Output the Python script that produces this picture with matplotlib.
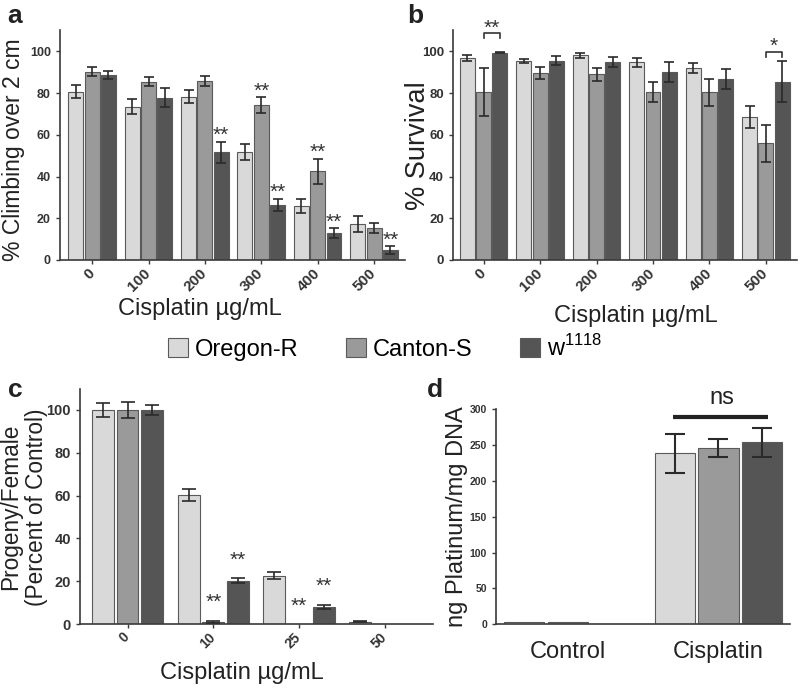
import numpy as np
import matplotlib.pyplot as plt
from matplotlib.patches import Patch

plt.rcParams['font.family'] = ['Liberation Sans', 'DejaVu Sans']
plt.rcParams['mathtext.fontset'] = 'custom'
plt.rcParams['mathtext.rm'] = 'Liberation Sans'

strains = ['Oregon-R', 'Canton-S', 'w$^{1118}$']
colors = ['#d9d9d9', '#9a9a9a', '#555555']

# a: climbing
doses_ab = ['0', '100', '200', '300', '400', '500']
climb_oregon = [80.7, 73.5, 78.3, 51.6, 25.9, 17.1]
climb_oregon_err = [3.0, 3.4, 3.3, 3.9, 3.4, 3.8]
climb_canton = [90.3, 85.5, 85.8, 74.1, 42.5, 15.3]
climb_canton_err = [2.0, 2.2, 2.2, 3.9, 6.0, 2.6]
climb_w = [88.7, 77.8, 51.6, 26.4, 12.8, 4.8]
climb_w_err = [1.8, 4.6, 5.0, 2.9, 2.5, 1.8]
climb_sig = [(2, 2), (3, 1), (3, 2), (4, 1), (4, 2), (5, 2)]

# b: survival
surv_oregon = [96.9, 95.5, 98.1, 94.7, 91.8, 68.7]
surv_oregon_err = [1.5, 1.0, 1.3, 2.2, 2.4, 5.3]
surv_canton = [80.7, 89.4, 89.1, 80.7, 80.3, 55.9]
surv_canton_err = [11.5, 2.9, 3.1, 4.8, 6.6, 9.0]
surv_w = [99.3, 95.5, 95.0, 90.2, 86.7, 85.5]
surv_w_err = [0.3, 2.3, 2.4, 4.8, 4.6, 9.8]
surv_sig = [(0, '**', 106.2, 108.6), (5, '*', 97.1, 99.5)]

# c: progeny
doses_c = ['0', '10', '25', '50']
prog_oregon = [100, 60.3, 22.6, 1.1]
prog_oregon_err = [3.2, 2.9, 1.6, 0.3]
prog_canton = [100, 1.0, 0, 0]
prog_canton_err = [3.7, 0.5, 0, 0]
prog_w = [100, 20.2, 8.1, 0]
prog_w_err = [2.5, 1.2, 0.9, 0]
prog_sig = [(1, 1), (1, 2), (2, 1), (2, 2)]

# d: platinum
pt_groups = ['Control', 'Cisplatin']
pt_oregon = [2.8, 238.2]
pt_oregon_err = [0, 27.5]
pt_canton = [2.8, 246.0]
pt_canton_err = [0, 12.5]
pt_w = [0.8, 253.5]
pt_w_err = [0, 20.5]


def bars(ax, series, errors, pitch, width, capsize, elw):
    x = np.arange(len(series[0]))
    tops = []
    for i, (vals, errs) in enumerate(zip(series, errors)):
        xs = x + (i - 1) * pitch
        vals = np.array(vals, float)
        errs = np.array(errs, float)
        ax.bar(xs, vals, width, color=colors[i], edgecolor='#5a5a5a', linewidth=0.8, zorder=2)
        keep = errs > 0
        ax.errorbar(xs[keep], vals[keep], yerr=errs[keep], fmt='none', ecolor='#2a2a2a',
                    elinewidth=elw, capsize=capsize, capthick=elw, zorder=3)
        tops.append((xs, vals + errs))
    return x, tops


def style(ax):
    for s in ['top', 'right']:
        ax.spines[s].set_visible(False)
    for s in ['left', 'bottom']:
        ax.spines[s].set_linewidth(1.2)
        ax.spines[s].set_color('#3a3a3a')
    ax.tick_params(direction='out', length=3, width=1, color='#3a3a3a')


fig = plt.figure(figsize=(8, 6.88), dpi=100)

# panel a
ax = fig.add_axes([0.075, 0.6221, 0.4313, 0.3337])
x, tops = bars(ax, [climb_oregon, climb_canton, climb_w],
               [climb_oregon_err, climb_canton_err, climb_w_err], 0.29, 0.265, 3.5, 1.2)
style(ax)
ax.set_xlim(-0.57, 5.55)
ax.set_ylim(0, 110)
ax.set_yticks(range(0, 101, 20), [str(v) for v in range(0, 101, 20)], fontsize=9, fontweight='bold', color='#333')
ax.set_xticks(x, doses_ab, fontsize=11, fontweight='bold', color='#333', rotation=45, ha='right',
              va='center', rotation_mode='anchor')
ax.tick_params(axis='x', pad=5)
for g, s in climb_sig:
    ax.annotate('**', (tops[s][0][g], tops[s][1][g]), xytext=(0, 0.5), textcoords='offset points',
                ha='center', va='baseline', fontsize=15, color='#333', annotation_clip=False)

# panel b
ax = fig.add_axes([0.5663, 0.6221, 0.43, 0.3337])
x, tops = bars(ax, [surv_oregon, surv_canton, surv_w],
               [surv_oregon_err, surv_canton_err, surv_w_err], 0.29, 0.265, 3.5, 1.2)
style(ax)
ax.set_xlim(-0.54, 5.55)
ax.set_ylim(0, 110)
ax.set_yticks(range(0, 101, 20), [str(v) for v in range(0, 101, 20)], fontsize=9.5, fontweight='bold', color='#333')
ax.set_xticks(x, doses_ab, fontsize=11, fontweight='bold', color='#333', rotation=45, ha='right',
              va='center', rotation_mode='anchor')
ax.tick_params(axis='x', pad=5)
for g, txt, lo, hi in surv_sig:
    x1, x2 = tops[1][0][g], tops[2][0][g]
    ax.plot([x1, x1, x2, x2], [lo, hi, hi, lo], color='#333', lw=1.2, clip_on=False)
    ax.annotate(txt, ((x1 + x2) / 2, hi), xytext=(0, 0), textcoords='offset points',
                ha='center', va='baseline', fontsize=15, color='#333', annotation_clip=False)

# panel c
ax = fig.add_axes([0.1, 0.093, 0.441, 0.3422])
x, tops = bars(ax, [prog_oregon, prog_canton, prog_w],
               [prog_oregon_err, prog_canton_err, prog_w_err], 0.288, 0.256, 5, 1.2)
style(ax)
ax.set_xlim(-0.554, 3.56)
ax.set_ylim(0, 110)
ax.set_yticks(range(0, 101, 20), [str(v) for v in range(0, 101, 20)], fontsize=10.5, fontweight='bold', color='#333')
ax.set_xticks(x, doses_c, fontsize=10, fontweight='bold', color='#333', rotation=45, ha='right',
              va='center', rotation_mode='anchor')
ax.tick_params(axis='x', pad=5)
for g, s in prog_sig:
    ax.annotate('**', (tops[s][0][g], tops[s][1][g]), xytext=(0, 9), textcoords='offset points',
                ha='center', va='baseline', fontsize=15, color='#333', annotation_clip=False)

# panel d
ax = fig.add_axes([0.62, 0.0926, 0.3675, 0.3129])
x, tops = bars(ax, [pt_oregon, pt_canton, pt_w],
               [pt_oregon_err, pt_canton_err, pt_w_err], 0.289, 0.266, 7, 1.5)
style(ax)
ax.set_xlim(-0.478, 1.475)
ax.set_ylim(0, 300)
ax.set_yticks(range(0, 301, 50), [str(v) for v in range(0, 301, 50)], fontsize=7.5, fontweight='bold', color='#333')
ax.set_xticks(x, pt_groups, fontsize=17, color='#222')
ax.tick_params(axis='x', length=0, pad=12)
ax.plot([0.70, 1.33], [289, 289], color='#222', lw=3, solid_capstyle='butt', clip_on=False)
ax.text(1.023, 315, 'ns', ha='center', va='center', fontsize=17, color='#222')

# axis titles
fig.text(0.0175, 0.782, '% Climbing over 2 cm', rotation=90, ha='center', va='center', fontsize=16.5, color='#222')
fig.text(0.522, 0.7885, '% Survival', rotation=90, ha='center', va='center', fontsize=19.5, color='#222')
fig.text(0.0295, 0.263, 'Progeny/Female\n(Percent of Control)', rotation=90, ha='center', va='center',
         fontsize=16.3, linespacing=1.2, color='#222')
fig.text(0.5715, 0.2485, 'ng Platinum/mg DNA', rotation=90, ha='center', va='center', fontsize=17, color='#222')
fig.text(0.25, 0.542, 'Cisplatin µg/mL', ha='center', va='baseline', fontsize=17, color='#222')
fig.text(0.795, 0.532, 'Cisplatin µg/mL', ha='center', va='baseline', fontsize=17, color='#222')
fig.text(0.3025, 0.013, 'Cisplatin µg/mL', ha='center', va='baseline', fontsize=17, color='#222')

# panel letters
for lx, ly, t in [(7, 23, 'a'), (407, 23, 'b'), (8, 397, 'c'), (427, 397, 'd')]:
    fig.text(lx / 800, 1 - ly / 688, t, fontsize=19, fontweight='bold', va='baseline', color='#222')

handles = [Patch(facecolor=c, edgecolor='#5a5a5a', linewidth=0.8) for c in colors]
fig.legend(handles, strains, loc='center', bbox_to_anchor=(0.481, 0.494), ncol=3, frameon=False,
           fontsize=17, handlelength=0.85, handleheight=0.85, handletextpad=0.3, columnspacing=2.0)

fig.savefig('out.png', dpi=100)
